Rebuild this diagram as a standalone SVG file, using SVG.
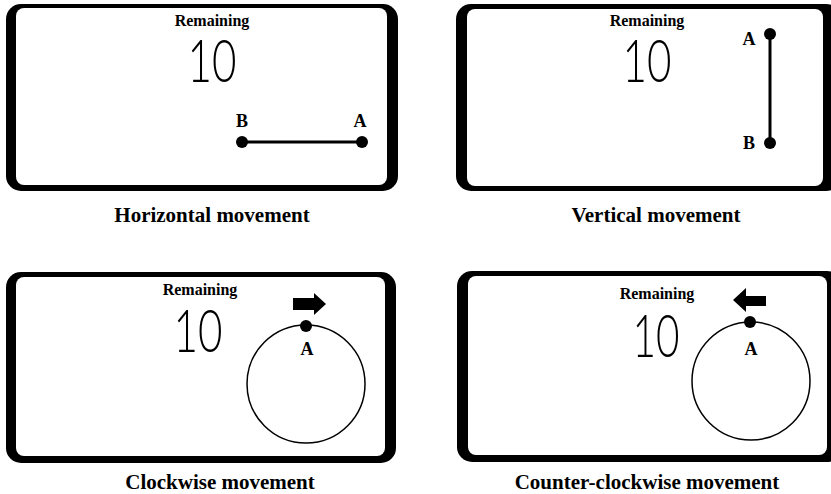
<svg xmlns="http://www.w3.org/2000/svg" width="831" height="494" viewBox="0 0 831 494">
  <style>
    .bezel { fill: #000; }
    .screen { fill: #fff; }
    .head { font-family: "Liberation Serif", "Times New Roman", serif; font-weight: bold; font-size: 16px; text-anchor: middle; fill: #000; }
    .count { font-family: "Lato", "Open Sans", sans-serif; font-weight: 300; font-size: 59px; text-anchor: middle; fill: #000; }
    .pt { font-family: "Liberation Serif", "Times New Roman", serif; font-weight: bold; font-size: 18px; text-anchor: middle; fill: #000; }
    .caption { font-family: "Liberation Serif", "Times New Roman", serif; font-weight: bold; font-size: 21px; text-anchor: middle; fill: #000; }
    .track { stroke: #000; stroke-width: 3; fill: none; }
    .orbit { stroke: #000; stroke-width: 1.5; fill: none; }
    .dot { fill: #000; }
  </style>
  <rect width="831" height="494" fill="#fff"/>

  <!-- Horizontal movement -->
  <g id="panel-horizontal">
    <rect class="bezel" x="6" y="4" width="392" height="187" rx="15"/>
    <rect class="screen" x="16" y="8" width="371" height="177" rx="8"/>
    <text class="head" x="212" y="26">Remaining</text>
    <text class="count" x="212" y="82" textLength="49" lengthAdjust="spacingAndGlyphs">10</text>
    <line class="track" x1="242" y1="142" x2="362" y2="142"/>
    <circle class="dot" cx="242" cy="142" r="6"/>
    <circle class="dot" cx="362" cy="142" r="6"/>
    <text class="pt" x="242" y="127">B</text>
    <text class="pt" x="360" y="127">A</text>
    <text class="caption" x="212" y="222">Horizontal movement</text>
  </g>

  <!-- Vertical movement -->
  <g id="panel-vertical">
    <rect class="bezel" x="456" y="4" width="385" height="187" rx="15"/>
    <rect class="screen" x="467" y="9" width="356" height="177" rx="8"/>
    <text class="head" x="647" y="26">Remaining</text>
    <text class="count" x="647" y="82" textLength="49" lengthAdjust="spacingAndGlyphs">10</text>
    <line class="track" x1="770" y1="34" x2="770" y2="143"/>
    <circle class="dot" cx="770" cy="34" r="6"/>
    <circle class="dot" cx="770" cy="143" r="6"/>
    <text class="pt" x="749" y="45">A</text>
    <text class="pt" x="749" y="149">B</text>
    <text class="caption" x="656" y="222">Vertical movement</text>
  </g>

  <!-- Clockwise movement -->
  <g id="panel-clockwise">
    <rect class="bezel" x="6" y="272" width="390" height="191" rx="15"/>
    <rect class="screen" x="16" y="277" width="369" height="179" rx="8"/>
    <text class="head" x="200" y="295">Remaining</text>
    <text class="count" x="198" y="352" textLength="49" lengthAdjust="spacingAndGlyphs">10</text>
    <circle class="orbit" cx="306" cy="384" r="59"/>
    <circle class="dot" cx="306" cy="326" r="6"/>
    <text class="pt" x="307" y="355">A</text>
    <polygon class="dot" points="293,298 314,298 314,293 326,304 314,315 314,310 293,310"/>
    <text class="caption" x="220" y="489">Clockwise  movement</text>
  </g>

  <!-- Counter-clockwise movement -->
  <g id="panel-counterclockwise">
    <rect class="bezel" x="457" y="271" width="385" height="191" rx="15"/>
    <rect class="screen" x="468" y="276" width="359" height="179" rx="8"/>
    <text class="head" x="657" y="299">Remaining</text>
    <text class="count" x="656" y="357" textLength="47" lengthAdjust="spacingAndGlyphs">10</text>
    <circle class="orbit" cx="751" cy="381" r="59"/>
    <circle class="dot" cx="750" cy="322" r="6"/>
    <text class="pt" x="751" y="355">A</text>
    <polygon class="dot" points="766,296 746,296 746,288 733,300 746,312 746,306 766,306"/>
    <text class="caption" x="647" y="489">Counter-clockwise  movement</text>
  </g>

  <g id="connectors"/>
</svg>
